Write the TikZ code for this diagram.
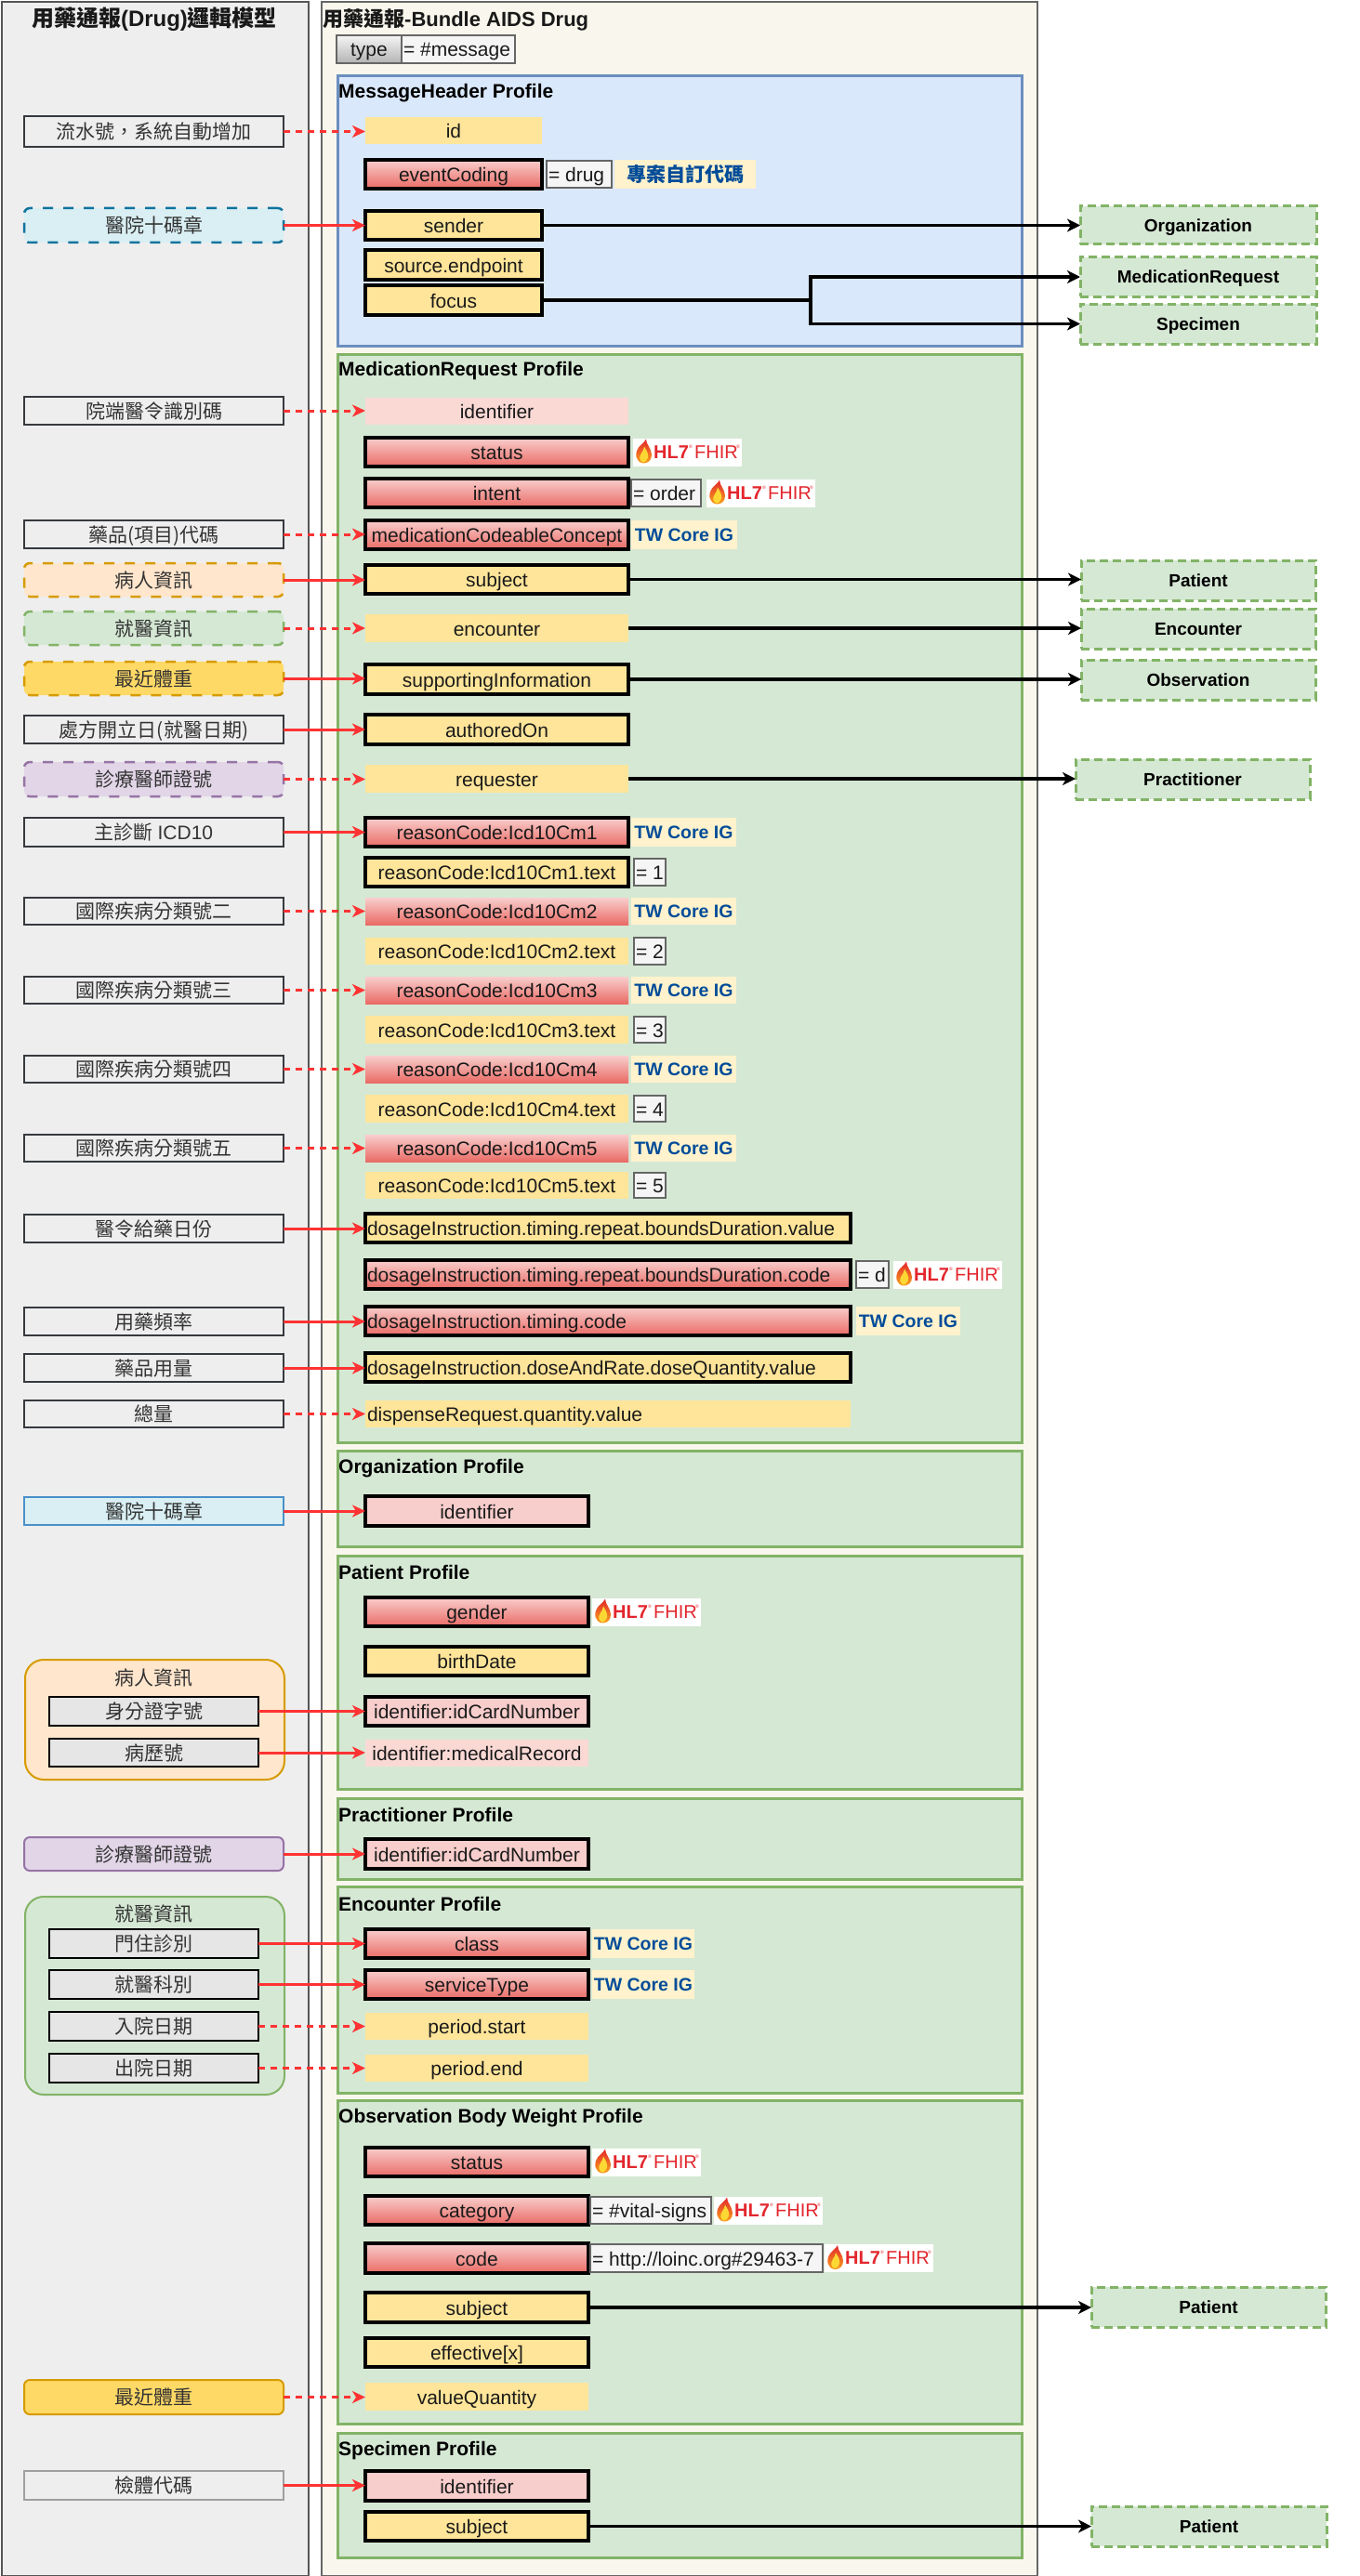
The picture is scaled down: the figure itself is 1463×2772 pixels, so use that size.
\documentclass[tikz,border=0pt]{standalone}
\usepackage{fontspec}
\setmainfont{Liberation Sans}
\newfontfamily\cjk{Noto Sans CJK TC}
\usetikzlibrary{arrows.meta}
\newcommand\fsz[1]{\fontsize{#1}{#1}\selectfont}
\definecolor{ylw}{HTML}{FFE599}
\definecolor{rtop}{HTML}{F8CECC}
\definecolor{rbot}{HTML}{EA6B66}
\definecolor{pinkb}{HTML}{F8CECC}
\definecolor{pinkn}{HTML}{FAD9D5}
\definecolor{valfill}{HTML}{F5F5F5}
\definecolor{valdraw}{HTML}{666666}
\definecolor{twfill}{HTML}{FFF2CC}
\definecolor{twtext}{HTML}{004C99}
\definecolor{grfill}{HTML}{D5E8D4}
\definecolor{grdraw}{HTML}{82B366}
\definecolor{blfill}{HTML}{DAE8FC}
\definecolor{bldraw}{HTML}{6C8EBF}
\definecolor{panelL}{HTML}{EEEEEE}
\definecolor{panelB}{HTML}{F9F7ED}
\definecolor{lpdraw}{HTML}{555555}
\definecolor{bpdraw}{HTML}{666666}
\definecolor{lboxdraw}{HTML}{36393D}
\definecolor{txt}{HTML}{333333}
\definecolor{fldtxt}{HTML}{1A1A1A}
\definecolor{arred}{HTML}{FF3333}
\definecolor{cyfill}{HTML}{D9EFF3}
\definecolor{cydraw}{HTML}{10739E}
\definecolor{cysdraw}{HTML}{4A90C8}
\definecolor{orfill}{HTML}{FFE6CC}
\definecolor{ordraw}{HTML}{D79B00}
\definecolor{gofill}{HTML}{FFD966}
\definecolor{godraw}{HTML}{D79B00}
\definecolor{pufill}{HTML}{E1D5E7}
\definecolor{pudraw}{HTML}{9673A6}
\definecolor{sboxfill}{HTML}{E6E6E6}
\definecolor{hlred}{HTML}{E3262D}
\definecolor{flameor}{HTML}{F7A21B}
\definecolor{flameyl}{HTML}{FDD835}
\definecolor{tgtop}{HTML}{F5F5F5}
\definecolor{tgbot}{HTML}{B3B3B3}

\newcommand\NB[7]{\pgfmathsetlengthmacro\nbw{#5pt-#3pt}\pgfmathsetlengthmacro\nbh{#6pt-#4pt}\node[#1, anchor=north west, minimum width=\nbw, minimum height=\nbh] (#2) at (#3,#4) {#7};}
\newcommand\NL[7]{\pgfmathsetlengthmacro\nbw{#5pt-#3pt}\pgfmathsetlengthmacro\nbh{#6pt-#4pt}\pgfmathsetlengthmacro\nbt{#5pt-#3pt-4pt}\node[#1, anchor=north west, minimum width=\nbw, minimum height=\nbh, inner xsep=2pt] (#2) at (#3,#4) {\makebox[\nbt][l]{#7}};}

\tikzset{
 base/.style={inner sep=0pt, outer sep=0pt, text height=16pt, text depth=0pt, font=\fsz{21}, text=fldtxt},
 yb/.style={base, fill=ylw, draw=black, line width=4pt},
 yn/.style={base, fill=ylw},
 rb/.style={base, top color=rtop, bottom color=rbot, draw=black, line width=4pt},
 rn/.style={base, top color=rtop, bottom color=rbot},
 pb/.style={base, fill=pinkb, draw=black, line width=4pt},
 pn/.style={base, fill=pinkn},
 valb/.style={base, fill=valfill, draw=valdraw, line width=1.5pt},
 typeb/.style={base, top color=tgtop, bottom color=tgbot, draw=valdraw, line width=1.5pt},
 twb/.style={base, fill=twfill, text=twtext, font=\bfseries\fsz{19.5}, text height=14.5pt},
 twc/.style={base, fill=twfill, text=twtext, font=\bfseries\cjk\fsz{21}},
 lbox/.style={base, fill=panelL, draw=lboxdraw, line width=1.5pt, text=txt, font=\cjk\fsz{21}},
 lboxg/.style={lbox, draw=gray!75},
 cyd/.style={lbox, fill=cyfill, draw=cydraw, line width=2.5pt, dash pattern=on 11pt off 11pt, rounded corners=6pt},
 cys/.style={lbox, fill=cyfill, draw=cysdraw, line width=2.5pt},
 ord/.style={lbox, fill=orfill, draw=ordraw, line width=2.5pt, dash pattern=on 11pt off 11pt, rounded corners=6pt},
 grd/.style={lbox, fill=grfill, draw=grdraw, line width=2.5pt, dash pattern=on 11pt off 11pt, rounded corners=6pt},
 god/.style={lbox, fill=gofill, draw=godraw, line width=2.5pt, dash pattern=on 11pt off 11pt, rounded corners=6pt},
 gos/.style={lbox, fill=gofill, draw=godraw, line width=2pt, rounded corners=6pt},
 pud/.style={lbox, fill=pufill, draw=pudraw, line width=2.5pt, dash pattern=on 11pt off 11pt, rounded corners=6pt},
 pus/.style={lbox, fill=pufill, draw=pudraw, line width=2pt, rounded corners=6pt},
 sbox/.style={lbox, fill=sboxfill, draw=black, line width=1.5pt},
 orgrp/.style={inner sep=0pt, fill=orfill, draw=ordraw, line width=2pt, rounded corners=20pt},
 grgrp/.style={inner sep=0pt, fill=grfill, draw=grdraw, line width=2pt, rounded corners=20pt},
 glab/.style={inner sep=0pt, text height=16pt, text depth=0pt, text=txt, font=\cjk\fsz{21}},
 ent/.style={base, fill=grfill, draw=grdraw, line width=3pt, dash pattern=on 9pt off 5pt, font=\bfseries\fsz{19}, text height=14pt, text=black},
 gprof/.style={inner sep=0pt, fill=grfill, draw=grdraw, line width=3pt},
 bprof/.style={inner sep=0pt, fill=blfill, draw=bldraw, line width=3pt},
 ptitle/.style={inner sep=0pt, anchor=west, font=\bfseries\fsz{21}, text=black},
 lpanel/.style={inner sep=0pt, fill=panelL, draw=lpdraw, line width=2pt},
 bpanel/.style={inner sep=0pt, fill=panelB, draw=bpdraw, line width=2pt},
 titlef/.style={inner sep=0pt, font=\bfseries\fsz{24}, text=black!90},
 rarr/.style={draw=arred, line width=3pt, -{Stealth[length=14pt,width=13pt,inset=4pt]}},
 rdash/.style={rarr, dash pattern=on 7pt off 6pt},
 barr/.style={draw=black, line width=3.5pt, -{Stealth[length=14pt,width=14pt,inset=4pt]}},
 hlfhir/.pic={
  \fill[white] (0,-15) rectangle (117,15);
  \shade[top color=hlred, bottom color=flameor] (11,12) .. controls (3,11) and (1,2) .. (6,-5) .. controls (8,-8) and (12,-10) .. (14,-14) .. controls (14,-8) and (20,-4) .. (20,3) .. controls (20,9) and (16,12) .. (11,12) -- cycle;
  \fill[flameyl] (11,11) .. controls (7,10) and (6,5) .. (9,1) .. controls (10,-1) and (12,-3) .. (12,-6) .. controls (14,-2) and (17,1) .. (16,6) .. controls (15,9) and (13,11) .. (11,11) -- cycle;
  \node[anchor=west, inner sep=0pt, text=hlred, font=\bfseries\fsz{20}] at (22,0) {HL7};
  \node[anchor=west, inner sep=0pt, text=hlred, font=\fsz{5}] at (60,-6) {®};
  \node[anchor=west, inner sep=0pt, text=hlred, font=\fsz{20}] at (66,0) {FHIR};
  \node[anchor=west, inner sep=0pt, text=hlred, font=\fsz{5}] at (111,-6) {®};
 }
}

\begin{document}
\begin{tikzpicture}[x=1pt,y=-1pt]
\useasboundingbox (0,0) rectangle (1463,2772);
\fill[white] (0,0) rectangle (1463,2772);

% panels
\NB{lpanel}{lp}{1}{1}{331}{2771}{}
\NB{bpanel}{bp}{345}{1}{1115}{2771}{}
\node[titlef] (lt) at (166,21) {{\cjk 用藥通報}(Drug){\cjk 邏輯模型}};
\node[titlef, anchor=west, font=\bfseries\fsz{22}] (bt) at (347,21) {{\cjk 用藥通報}-Bundle AIDS Drug};

% type
\NB{typeb}{typek}{362}{38}{432}{68}{type}
\NL{valb}{typev}{432}{38}{554}{68}{= \#message}

% MessageHeader
\NB{bprof}{mhp}{362}{80}{1098}{371}{}
\node[ptitle] (mht) at (364,100) {MessageHeader Profile};
\NB{yn}{mhid}{393}{126}{583}{155}{id}
\NB{rb}{mhevc}{393}{172}{583}{203}{eventCoding}
\NL{valb}{mhevcv}{588}{173}{658}{202}{= drug}
\NB{twc}{mhevct}{661}{172}{813}{203}{專案自訂代碼}
\NB{yb}{mhsend}{393}{227}{583}{258}{sender}
\NB{yb}{mhsrc}{393}{269}{583}{301}{source.endpoint}
\NB{yb}{mhfocus}{393}{307}{583}{339}{focus}

\NB{lbox}{lmh1}{26}{125}{305}{158}{流水號，系統自動增加}
\NB{cyd}{lmh2}{26}{224}{305}{261}{醫院十碼章}

\NB{ent}{eorg}{1162}{222}{1416}{263}{Organization}
\NB{ent}{emr}{1162}{277}{1416}{319}{MedicationRequest}
\NB{ent}{espec}{1162}{327}{1416}{370}{Specimen}

% MedicationRequest
\NB{gprof}{mrp}{362}{380}{1098}{1551}{}
\node[ptitle] (mrt) at (364,399) {MedicationRequest Profile};
\NB{pn}{mrid}{393}{428}{676}{457}{identifier}
\NB{rb}{mrst}{393}{471}{676}{502}{status}
\pic at (681,486.5) {hlfhir};
\NB{rb}{mrint}{393}{515}{676}{546}{intent}
\NL{valb}{mrintv}{679}{516}{754}{545}{= order}
\pic at (760,530.5) {hlfhir};
\NB{rb}{mrmed}{393}{560}{676}{591}{medicationCodeableConcept}
\NB{twb}{mrmedt}{679}{560}{793}{591}{TW Core IG}
\NB{yb}{mrsub}{393}{608}{676}{639}{subject}
\NB{yn}{mrenc}{393}{661}{676}{691}{encounter}
\NB{yb}{mrsup}{393}{715}{676}{747}{supportingInformation}
\NB{yb}{mraut}{393}{769}{676}{801}{authoredOn}
\NB{yn}{mrreq}{393}{823}{676}{853}{requester}

\NB{rb}{cm1}{393}{880}{676}{911}{reasonCode:Icd10Cm1}
\NB{twb}{cm1w}{679}{880}{792}{911}{TW Core IG}
\NB{yb}{cm1t}{393}{923}{676}{954}{reasonCode:Icd10Cm1.text}
\NL{valb}{cm1v}{682}{924}{716}{953}{= 1}
\NB{rn}{cm2}{393}{966}{676}{995}{reasonCode:Icd10Cm2}
\NB{twb}{cm2w}{679}{966}{792}{995}{TW Core IG}
\NB{yn}{cm2t}{393}{1009}{676}{1038}{reasonCode:Icd10Cm2.text}
\NL{valb}{cm2v}{682}{1009}{716}{1038}{= 2}
\NB{rn}{cm3}{393}{1051}{676}{1080}{reasonCode:Icd10Cm3}
\NB{twb}{cm3w}{679}{1051}{792}{1080}{TW Core IG}
\NB{yn}{cm3t}{393}{1093}{676}{1123}{reasonCode:Icd10Cm3.text}
\NL{valb}{cm3v}{682}{1094}{716}{1122}{= 3}
\NB{rn}{cm4}{393}{1136}{676}{1165}{reasonCode:Icd10Cm4}
\NB{twb}{cm4w}{679}{1136}{792}{1165}{TW Core IG}
\NB{yn}{cm4t}{393}{1178}{676}{1208}{reasonCode:Icd10Cm4.text}
\NL{valb}{cm4v}{682}{1179}{716}{1207}{= 4}
\NB{rn}{cm5}{393}{1221}{676}{1250}{reasonCode:Icd10Cm5}
\NB{twb}{cm5w}{679}{1221}{792}{1250}{TW Core IG}
\NB{yn}{cm5t}{393}{1261}{676}{1290}{reasonCode:Icd10Cm5.text}
\NL{valb}{cm5v}{682}{1262}{716}{1289}{= 5}

\NL{yb}{dosv}{393}{1306}{915}{1337}{dosageInstruction.timing.repeat.boundsDuration.value}
\NL{rb}{dosc}{393}{1356}{915}{1387}{dosageInstruction.timing.repeat.boundsDuration.code}
\NL{valb}{doscv}{921}{1357}{956}{1386}{= d}
\pic at (961,1371.5) {hlfhir};
\NL{rb}{dost}{393}{1406}{915}{1437}{dosageInstruction.timing.code}
\NB{twb}{dostw}{921}{1406}{1033}{1437}{TW Core IG}
\NL{yb}{dosq}{393}{1456}{915}{1487}{dosageInstruction.doseAndRate.doseQuantity.value}
\NL{yn}{disq}{393}{1507}{915}{1536}{dispenseRequest.quantity.value}

\NB{lbox}{lmr1}{26}{427}{305}{457}{院端醫令識別碼}
\NB{lbox}{lmr2}{26}{560}{305}{590}{藥品(項目)代碼}
\NB{ord}{lmr3}{26}{606}{305}{642}{病人資訊}
\NB{grd}{lmr4}{26}{658}{305}{694}{就醫資訊}
\NB{god}{lmr5}{26}{712}{305}{748}{最近體重}
\NB{lbox}{lmr6}{26}{770}{305}{800}{處方開立日(就醫日期)}
\NB{pud}{lmr7}{26}{820}{305}{857}{診療醫師證號}
\NB{lbox}{lmr8}{26}{880}{305}{911}{主診斷 {\rmfamily ICD10}}
\NB{lbox}{lmr9}{26}{966}{305}{995}{國際疾病分類號二}
\NB{lbox}{lmr10}{26}{1051}{305}{1080}{國際疾病分類號三}
\NB{lbox}{lmr11}{26}{1136}{305}{1165}{國際疾病分類號四}
\NB{lbox}{lmr12}{26}{1221}{305}{1250}{國際疾病分類號五}
\NB{lbox}{lmr13}{26}{1307}{305}{1337}{醫令給藥日份}
\NB{lbox}{lmr14}{26}{1407}{305}{1437}{用藥頻率}
\NB{lbox}{lmr15}{26}{1457}{305}{1487}{藥品用量}
\NB{lbox}{lmr16}{26}{1507}{305}{1536}{總量}

\NB{ent}{epat1}{1163}{603}{1415}{646}{Patient}
\NB{ent}{eenc}{1163}{655}{1415}{698}{Encounter}
\NB{ent}{eobs}{1163}{710}{1415}{753}{Observation}
\NB{ent}{eprac}{1157}{817}{1409}{860}{Practitioner}

% Organization
\NB{gprof}{orgp}{362}{1560}{1098}{1663}{}
\node[ptitle] (orgt) at (364,1580) {Organization Profile};
\NB{pb}{orgid}{393}{1610}{633}{1642}{identifier}
\NB{cys}{lorg}{26}{1611}{305}{1641}{醫院十碼章}

% Patient
\NB{gprof}{patp}{362}{1673}{1098}{1924}{}
\node[ptitle] (patt) at (364,1692) {Patient Profile};
\NB{rb}{patg}{393}{1719}{633}{1750}{gender}
\pic at (637,1734.5) {hlfhir};
\NB{yb}{patb}{393}{1772}{633}{1803}{birthDate}
\NB{pb}{patic}{393}{1826}{633}{1857}{identifier:idCardNumber}
\NB{pn}{patmr}{393}{1872}{633}{1901}{identifier:medicalRecord}
\NB{orgrp}{gpat}{26}{1785}{305}{1914}{}
\node[glab] (gpatl) at (165.5,1805) {病人資訊};
\NB{sbox}{lpid}{53}{1826}{278}{1857}{身分證字號}
\NB{sbox}{lpmr}{53}{1871}{278}{1901}{病歷號}

% Practitioner
\NB{gprof}{prp}{362}{1934}{1098}{2021}{}
\node[ptitle] (prt) at (364,1953) {Practitioner Profile};
\NB{pb}{prid}{393}{1979}{633}{2011}{identifier:idCardNumber}
\NB{pus}{lpr}{26}{1977}{305}{2013}{診療醫師證號}

% Encounter
\NB{gprof}{encp}{362}{2029}{1098}{2251}{}
\node[ptitle] (enct) at (364,2049) {Encounter Profile};
\NB{rb}{enccl}{393}{2076}{633}{2107}{class}
\NB{twb}{enccw}{637}{2076}{747}{2107}{TW Core IG}
\NB{rb}{encst}{393}{2120}{633}{2151}{serviceType}
\NB{twb}{encsw}{637}{2120}{747}{2151}{TW Core IG}
\NB{yn}{encps}{393}{2166}{633}{2195}{period.start}
\NB{yn}{encpe}{393}{2211}{633}{2240}{period.end}
\NB{grgrp}{genc}{26}{2040}{305}{2253}{}
\node[glab] (gencl) at (165.5,2059) {就醫資訊};
\NB{sbox}{le1}{53}{2076}{278}{2107}{門住診別}
\NB{sbox}{le2}{53}{2120}{278}{2151}{就醫科別}
\NB{sbox}{le3}{53}{2165}{278}{2196}{入院日期}
\NB{sbox}{le4}{53}{2210}{278}{2241}{出院日期}

% Observation
\NB{gprof}{obsp}{362}{2259}{1098}{2607}{}
\node[ptitle] (obst) at (364,2279) {Observation Body Weight Profile};
\NB{rb}{obst1}{393}{2311}{633}{2342}{status}
\pic at (637,2326.5) {hlfhir};
\NB{rb}{obcat}{393}{2363}{633}{2394}{category}
\NL{valb}{obcatv}{635}{2364}{765}{2393}{= \#vital-signs}
\pic at (768,2378.5) {hlfhir};
\NB{rb}{obcode}{393}{2414}{633}{2446}{code}
\NL{valb}{obcodev}{635}{2415}{885}{2445}{= http://loinc.org\#29463-7}
\pic at (887,2430) {hlfhir};
\NB{yb}{obsub}{393}{2467}{633}{2499}{subject}
\NB{yb}{obeff}{393}{2516}{633}{2547}{effective[x]}
\NB{yn}{obval}{393}{2564}{633}{2594}{valueQuantity}
\NB{gos}{lobs}{26}{2561}{305}{2598}{最近體重}
\NB{ent}{epat2}{1174}{2461}{1426}{2504}{Patient}

% Specimen
\NB{gprof}{spp}{362}{2617}{1098}{2751}{}
\node[ptitle] (spt) at (364,2637) {Specimen Profile};
\NB{pb}{spid}{393}{2659}{633}{2691}{identifier}
\NB{yb}{spsub}{393}{2703}{633}{2734}{subject}
\NB{lboxg}{lsp}{26}{2659}{305}{2690}{檢體代碼}
\NB{ent}{epat3}{1174}{2697}{1427}{2740}{Patient}

% red connectors
\draw[rdash] (lmh1.east) -- (lmh1.east -| mhid.west);
\draw[rarr] (lmh2.east) -- (lmh2.east -| mhsend.west);
\draw[rdash] (lmr1.east) -- (lmr1.east -| mrid.west);
\draw[rdash] (lmr2.east) -- (lmr2.east -| mrmed.west);
\draw[rarr] (lmr3.east) -- (lmr3.east -| mrsub.west);
\draw[rdash] (lmr4.east) -- (lmr4.east -| mrenc.west);
\draw[rarr] (lmr5.east) -- (lmr5.east -| mrsup.west);
\draw[rarr] (lmr6.east) -- (lmr6.east -| mraut.west);
\draw[rdash] (lmr7.east) -- (lmr7.east -| mrreq.west);
\draw[rarr] (lmr8.east) -- (lmr8.east -| cm1.west);
\draw[rdash] (lmr9.east) -- (lmr9.east -| cm2.west);
\draw[rdash] (lmr10.east) -- (lmr10.east -| cm3.west);
\draw[rdash] (lmr11.east) -- (lmr11.east -| cm4.west);
\draw[rdash] (lmr12.east) -- (lmr12.east -| cm5.west);
\draw[rarr] (lmr13.east) -- (lmr13.east -| dosv.west);
\draw[rarr] (lmr14.east) -- (lmr14.east -| dost.west);
\draw[rarr] (lmr15.east) -- (lmr15.east -| dosq.west);
\draw[rdash] (lmr16.east) -- (lmr16.east -| disq.west);
\draw[rarr] (lorg.east) -- (lorg.east -| orgid.west);
\draw[rarr] (lpid.east) -- (lpid.east -| patic.west);
\draw[rarr] (lpmr.east) -- (lpmr.east -| patmr.west);
\draw[rarr] (lpr.east) -- (lpr.east -| prid.west);
\draw[rarr] (le1.east) -- (le1.east -| enccl.west);
\draw[rarr] (le2.east) -- (le2.east -| encst.west);
\draw[rdash] (le3.east) -- (le3.east -| encps.west);
\draw[rdash] (le4.east) -- (le4.east -| encpe.west);
\draw[rdash] (lobs.east) -- (lobs.east -| obval.west);
\draw[rarr] (lsp.east) -- (lsp.east -| spid.west);

% black connectors
\coordinate (fj) at (872,323);
\draw[barr] (mhsend.east) -- (mhsend.east -| eorg.west);
\draw[barr] (mhfocus.east) -- (fj) |- (emr.west);
\draw[barr] (fj) |- (espec.west);
\draw[barr] (mrsub.east) -- (mrsub.east -| epat1.west);
\draw[barr] (mrenc.east) -- (mrenc.east -| eenc.west);
\draw[barr] (mrsup.east) -- (mrsup.east -| eobs.west);
\draw[barr] (mrreq.east) -- (mrreq.east -| eprac.west);
\draw[barr] (obsub.east) -- (obsub.east -| epat2.west);
\draw[barr] (spsub.east) -- (spsub.east -| epat3.west);
\end{tikzpicture}
\end{document}
